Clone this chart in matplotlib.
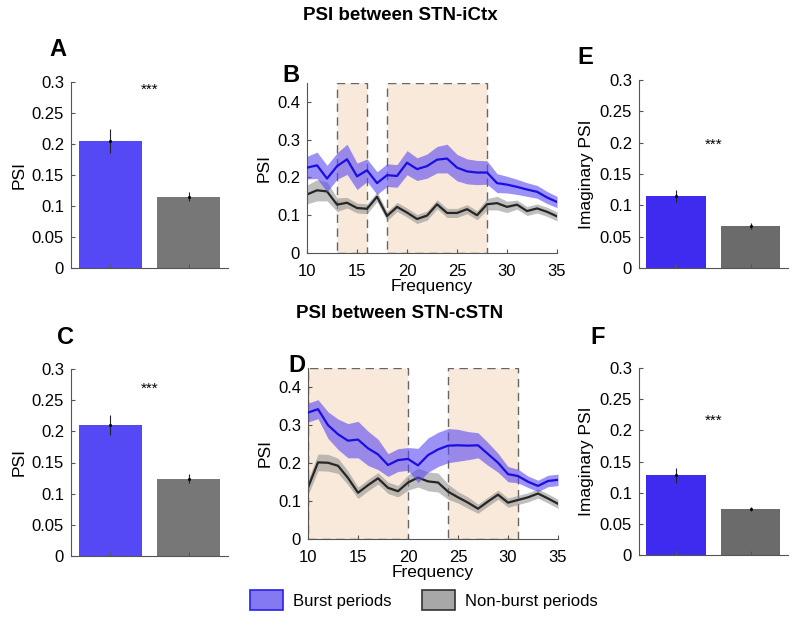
import matplotlib
matplotlib.use("Agg")
import matplotlib.pyplot as plt
from matplotlib.patches import Rectangle, Patch

plt.rcParams.update({
    "font.family": ["Liberation Sans", "DejaVu Sans"],
    "font.size": 11,
    "axes.spines.top": False, "axes.spines.right": False,
    "axes.edgecolor": "#555555", "axes.linewidth": 0.8,
    "xtick.direction": "in", "ytick.direction": "in",
    "xtick.color": "#555555", "ytick.color": "#555555",
    "xtick.labelcolor": "black", "ytick.labelcolor": "black",
    "xtick.major.size": 3, "ytick.major.size": 3,
})

# ---- bar panels (A, C, E, F): burst vs non-burst ----
bar_a = [0.205, 0.115]; err_a = [0.019, 0.007]
bar_c = [0.210, 0.124]; err_c = [0.016, 0.007]
bar_e = [0.115, 0.067]; err_e = [0.010, 0.005]
bar_f = [0.128, 0.074]; err_f = [0.012, 0.003]

# ---- spectra (B, D) ----
freq = list(range(10, 36))
b_burst = [0.226, 0.232, 0.197, 0.230, 0.248, 0.203, 0.219, 0.185, 0.206, 0.204,
           0.239, 0.222, 0.230, 0.247, 0.250, 0.226, 0.216, 0.213, 0.213, 0.185,
           0.181, 0.175, 0.168, 0.162, 0.147, 0.135]
b_burst_sem = [0.030, 0.035, 0.035, 0.035, 0.040, 0.035, 0.030, 0.030, 0.030, 0.030,
               0.032, 0.030, 0.032, 0.035, 0.038, 0.035, 0.033, 0.032, 0.031, 0.025,
               0.022, 0.020, 0.018, 0.017, 0.016, 0.015]
b_non = [0.155, 0.166, 0.163, 0.128, 0.133, 0.119, 0.117, 0.149, 0.098, 0.122,
         0.107, 0.090, 0.099, 0.129, 0.106, 0.106, 0.116, 0.100, 0.129, 0.132,
         0.122, 0.128, 0.111, 0.118, 0.109, 0.097]
b_non_sem = [0.025, 0.028, 0.025, 0.018, 0.014, 0.013, 0.013, 0.013, 0.012, 0.012,
             0.012, 0.012, 0.012, 0.012, 0.012, 0.012, 0.012, 0.012, 0.015, 0.018,
             0.015, 0.012, 0.012, 0.012, 0.012, 0.012]
d_burst = [0.332, 0.341, 0.299, 0.275, 0.258, 0.261, 0.238, 0.222, 0.194, 0.207,
           0.210, 0.193, 0.220, 0.235, 0.245, 0.246, 0.245, 0.246, 0.223, 0.200,
           0.170, 0.165, 0.150, 0.139, 0.152, 0.155]
d_burst_sem = [0.025, 0.025, 0.035, 0.040, 0.045, 0.048, 0.045, 0.040, 0.030, 0.030,
               0.030, 0.045, 0.045, 0.045, 0.045, 0.042, 0.037, 0.033, 0.030, 0.025,
               0.020, 0.018, 0.015, 0.015, 0.015, 0.015]
d_non = [0.135, 0.201, 0.200, 0.192, 0.160, 0.121, 0.141, 0.159, 0.134, 0.125,
         0.148, 0.161, 0.151, 0.148, 0.124, 0.109, 0.095, 0.079, 0.098, 0.116,
         0.095, 0.102, 0.109, 0.119, 0.106, 0.092]
d_non_sem = [0.020, 0.022, 0.022, 0.020, 0.018, 0.015, 0.015, 0.015, 0.015, 0.015,
             0.020, 0.025, 0.025, 0.025, 0.020, 0.015, 0.015, 0.012, 0.012, 0.012,
             0.012, 0.012, 0.012, 0.012, 0.012, 0.012]
bands_b = [(13, 16), (18, 28)]
bands_d = [(10, 20), (24, 31)]

fig = plt.figure(figsize=(8, 6.25), dpi=100)


def panel_letter(letter, xy):
    fig.text(xy[0] / 800, 1 - xy[1] / 625, letter, fontsize=17,
             fontweight="bold", ha="center", va="center")


def bar_panel(rect, vals, errs, c_burst, c_non, ylabel, star_y, letter, lxy):
    ax = fig.add_axes(rect)
    ax.bar([1, 2], vals, width=0.8, color=[c_burst, c_non])
    ax.errorbar([1, 2], vals, yerr=errs, fmt="none", ecolor="#222222",
                elinewidth=0.8, capsize=0)
    ax.plot([1, 2], vals, ls="none", marker=".", ms=2.5, color="black")
    ax.set_xlim(0.5, 2.5)
    ax.set_ylim(0, 0.3)
    ax.set_yticks([0, 0.05, 0.1, 0.15, 0.2, 0.25, 0.3])
    ax.set_yticklabels(["0", "0.05", "0.1", "0.15", "0.2", "0.25", "0.3"])
    ax.tick_params(axis="y", labelsize=12, pad=5)
    ax.set_xticks([1, 2])
    ax.set_xticklabels([])
    ax.set_ylabel(ylabel, fontsize=12.5)
    ax.text(1.5, star_y, "***", ha="center", va="center", fontsize=11)
    panel_letter(letter, lxy)
    return ax


def spec_panel(rect, mb, sb, mn, sn, bands, letter, lxy):
    ax = fig.add_axes(rect)
    for lo, hi in bands:
        ax.add_patch(Rectangle((lo, 0), hi - lo, 0.45, facecolor="#f8e9da",
                               edgecolor="#666666", ls=(0, (6, 4)), lw=1.0, zorder=0))
    lo_b = [m - s for m, s in zip(mb, sb)]
    hi_b = [m + s for m, s in zip(mb, sb)]
    lo_n = [m - s for m, s in zip(mn, sn)]
    hi_n = [m + s for m, s in zip(mn, sn)]
    ax.fill_between(freq, lo_n, hi_n, color="#8c8c8c", alpha=0.55, lw=0, zorder=1)
    ax.plot(freq, mn, color="#262626", lw=1.6, zorder=2)
    ax.fill_between(freq, lo_b, hi_b, color="#5a48f0", alpha=0.6, lw=0, zorder=3)
    ax.plot(freq, mb, color="#1a0ee0", lw=1.6, zorder=4)
    ax.set_xlim(10, 35)
    ax.set_ylim(0, 0.45)
    ax.set_xticks([10, 15, 20, 25, 30, 35])
    ax.set_yticks([0, 0.1, 0.2, 0.3, 0.4])
    ax.set_yticklabels(["0", "0.1", "0.2", "0.3", "0.4"])
    ax.tick_params(axis="x", labelsize=12, pad=8)
    ax.tick_params(axis="y", labelsize=12, pad=5)
    ax.set_xlabel("Frequency", fontsize=12.5, labelpad=0)
    ax.set_ylabel("PSI", fontsize=12.5)
    panel_letter(letter, lxy)
    return ax


BLUE_AC, GRAY_AC = "#5549f5", "#777777"
BLUE_EF, GRAY_EF = "#3f2bf0", "#6b6b6b"

bar_panel([0.0888, 0.5712, 0.196, 0.2976], bar_a, err_a, BLUE_AC, GRAY_AC,
          "PSI", 0.287, "A", (58, 50))
spec_panel([0.3838, 0.5952, 0.3125, 0.272], b_burst, b_burst_sem, b_non, b_non_sem,
           bands_b, "B", (291, 75))
bar_panel([0.7988, 0.5712, 0.186, 0.3008], bar_e, err_e, BLUE_EF, GRAY_EF,
          "Imaginary PSI", 0.196, "E", (585, 57))
bar_panel([0.0888, 0.1104, 0.196, 0.2992], bar_c, err_c, BLUE_AC, GRAY_AC,
          "PSI", 0.268, "C", (66, 338))
spec_panel([0.385, 0.138, 0.3125, 0.2736], d_burst, d_burst_sem, d_non, d_non_sem,
           bands_d, "D", (297, 366))
bar_panel([0.7988, 0.112, 0.186, 0.2992], bar_f, err_f, BLUE_EF, GRAY_EF,
          "Imaginary PSI", 0.216, "F", (598, 338))

fig.text(0.5, 1 - 16 / 625, "PSI between STN-iCtx", ha="center", va="center",
         fontsize=13.5, fontweight="bold")
fig.text(0.5, 1 - 313 / 625, "PSI between STN-cSTN", ha="center", va="center",
         fontsize=13.5, fontweight="bold")

handles = [Patch(facecolor="#8479f0", edgecolor="#2a1ef0", lw=1.2, label="Burst periods"),
           Patch(facecolor="#a8a8a8", edgecolor="#333333", lw=1.2, label="Non-burst periods")]
fig.legend(handles=handles, loc="center", bbox_to_anchor=(0.53, 1 - 600 / 625),
           ncol=2, frameon=False, fontsize=12, handlelength=2.0, handleheight=1.4,
           columnspacing=1.8, handletextpad=0.6)

fig.savefig("out.png", dpi=100)
